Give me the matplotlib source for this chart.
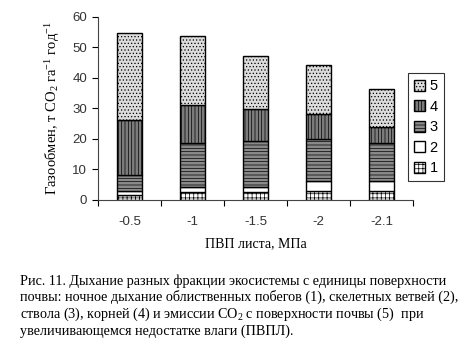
import matplotlib
matplotlib.use('Agg')
import matplotlib.pyplot as plt
import numpy as np

plt.rcParams['hatch.linewidth'] = 0.5
plt.rcParams['mathtext.fontset'] = 'custom'
plt.rcParams['mathtext.rm'] = 'Liberation Serif'
plt.rcParams['mathtext.it'] = 'Liberation Serif:italic'

# данные (т CO2 га-1 год-1)
categories = ['-0.5', '-1', '-1.5', '-2', '-2.1']
series_names = ['1', '2', '3', '4', '5']
s1 = [1.6, 2.5, 2.5, 3.0, 3.0]    # облиственные побеги
s2 = [1.3, 1.8, 1.7, 3.0, 3.0]    # скелетные ветви
s3 = [5.3, 14.2, 14.9, 13.9, 12.6]  # ствол
s4 = [17.8, 12.5, 10.7, 8.2, 5.3]   # корни
s5 = [28.5, 22.7, 17.4, 16.1, 12.4]  # эмиссия с поверхности почвы

fig = plt.figure(figsize=(4.74, 3.53), dpi=100)
ax = fig.add_axes([0.207, 0.434, 0.664, 0.519])

styles = [
    dict(color='white', hatch='++++'),
    dict(color='white', hatch=''),
    dict(color='#8a8a8a', hatch='-----'),
    dict(color='#7c7c7c', hatch='|||||'),
    dict(color='#dcdcdc', hatch='.....'),
]

x = np.arange(len(categories)) + 0.5
bottom = np.zeros(len(categories))
for vals, name, st in zip([s1, s2, s3, s4, s5], series_names, styles):
    ax.bar(x, vals, width=0.4, bottom=bottom, color=st['color'],
           hatch=st['hatch'], edgecolor='black', linewidth=1.0, label=name)
    bottom += np.array(vals)

ax.set_xlim(0, len(categories))
ax.set_ylim(0, 60)
ax.set_yticks(range(0, 61, 10))
ax.set_xticks(np.arange(len(categories) + 1))
ax.set_xticklabels([])
ax.set_xticks(x, minor=True)
ax.set_xticklabels(categories, minor=True)
ax.tick_params(axis='x', which='minor', length=0, pad=12)
ax.tick_params(axis='x', which='major', length=4, direction='out')
ax.tick_params(axis='y', length=4, direction='out', pad=4)
for lab in ax.get_xticklabels(minor=True) + ax.get_yticklabels():
    lab.set_fontfamily('Liberation Sans')
    lab.set_fontsize(9.5)
    lab.set_color('#333333')
ax.spines['top'].set_visible(False)
ax.spines['right'].set_visible(False)
ax.spines['left'].set_color('#444444')
ax.spines['bottom'].set_color('#444444')

ax.set_ylabel('Газообмен, т CO$_2$ га$^{-1}$ год$^{-1}$',
              fontfamily='Liberation Serif', fontsize=10.5, labelpad=7)
ax.set_xlabel('ПВП листа, МПа', fontfamily='Liberation Serif',
              fontsize=10, labelpad=6)

handles, labels = ax.get_legend_handles_labels()
leg = ax.legend(handles[::-1], labels[::-1], loc='upper left',
                bbox_to_anchor=(0.984, 0.69), frameon=True, fancybox=False,
                edgecolor='black', prop={'family': 'Liberation Sans', 'size': 10.5},
                handlelength=0.8, handleheight=0.8, handletextpad=0.3,
                labelspacing=0.45, borderpad=0.4, borderaxespad=0)
leg.get_frame().set_linewidth(0.8)

caption = ('Рис. 11. Дыхание разных фракции экосистемы с единицы поверхности\n'
           'почвы: ночное дыхание облиственных побегов (1), скелетных ветвей (2),\n'
           'ствола (3), корней (4) и эмиссии CO$_2$ с поверхности почвы (5)  при\n'
           'увеличивающемся недостатке влаги (ПВПЛ).')
fig.text(0.042, 0.133, caption, fontfamily='Liberation Serif', fontsize=10.2,
         va='center', ha='left', linespacing=1.15)

fig.savefig('out.png', dpi=100)
